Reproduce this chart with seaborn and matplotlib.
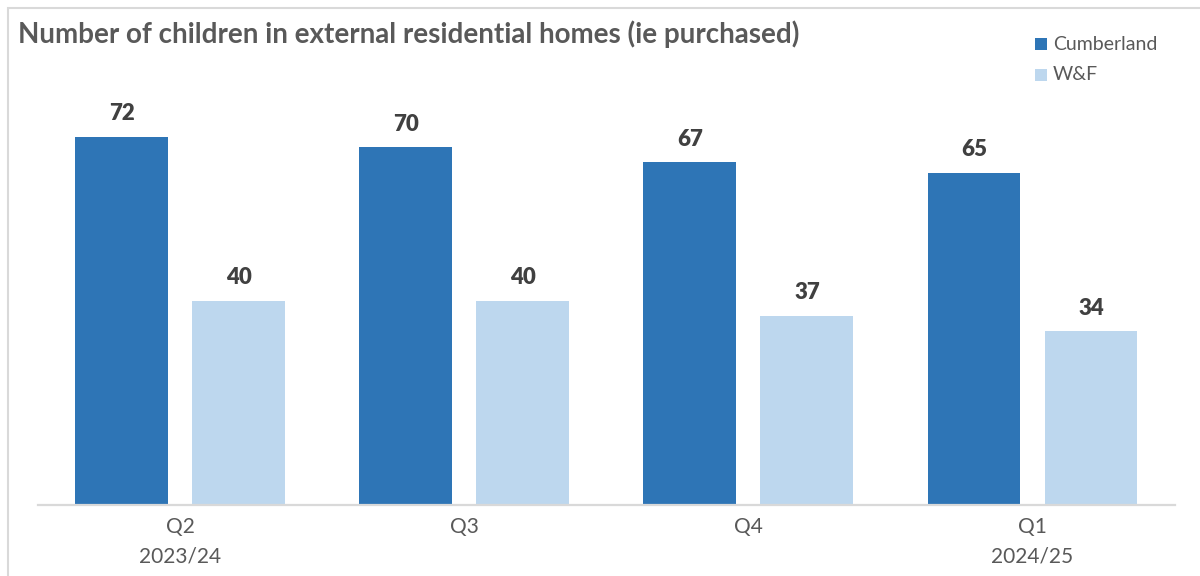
import matplotlib
matplotlib.use("Agg")
import matplotlib.pyplot as plt
import seaborn as sns
import pandas as pd
from matplotlib.patches import Rectangle

categories = ["Q2\n2023/24", "Q3", "Q4", "Q1\n2024/25"]
series_names = ["Cumberland", "W&F"]
cumberland = [72, 70, 67, 65]
wf = [40, 40, 37, 34]
title = "Number of children in external residential homes (ie purchased)"
colors = ["#2E75B6", "#BDD7EE"]

df = pd.DataFrame({
    "quarter": categories * 2,
    "series": [series_names[0]] * 4 + [series_names[1]] * 4,
    "value": cumberland + wf,
})

sns.set_theme(style="white")
plt.rcParams["font.family"] = ["Lato", "DejaVu Sans"]

W, H = 1200, 576
fig = plt.figure(figsize=(12, 5.76), dpi=100)
ax = fig.add_axes([38 / W, 1 - 505 / H, (1174.6 - 38) / W, 409 / H])

sns.barplot(data=df, x="quarter", y="value", hue="series", order=categories,
            hue_order=series_names, palette=colors, width=0.824, gap=0.207,
            saturation=1, linewidth=0, edgecolor="none", ax=ax, legend=False)

ax.set_ylim(0, 80)
ax.set_xlim(-0.5, 3.5)
ax.set_yticks([])
ax.set_xlabel("")
ax.set_ylabel("")
for s in ["top", "right", "left"]:
    ax.spines[s].set_visible(False)
ax.spines["bottom"].set_color("#D9D9D9")
ax.spines["bottom"].set_linewidth(1.6)
ax.tick_params(axis="x", length=0, pad=9, labelsize=15, labelcolor="#595959")
for lbl in ax.get_xticklabels():
    lbl.set_linespacing(1.55)

for cont in ax.containers:
    ax.bar_label(cont, fmt="%d", padding=9, fontsize=16, fontweight="heavy", color="#404040")

fig.text(18 / W, 1 - 34 / H, title, fontsize=20, fontweight="bold", color="#595959",
         ha="left", va="center")

# legend
for i, (name, c) in enumerate(zip(series_names, colors)):
    y = 1 - (44 + 31 * i) / H
    fig.patches.append(Rectangle((1035 / W, y - 6 / H), 12 / W, 12 / H,
                                 transform=fig.transFigure, facecolor=c, edgecolor="none"))
    fig.text(1053 / W, y, name, fontsize=14, color="#595959", ha="left", va="center")

# frame
fig.patches.append(Rectangle((8 / W, -0.1), 1.2, 1 - 8 / H + 0.1, transform=fig.transFigure,
                             facecolor="none", edgecolor="#D9D9D9", linewidth=1.5))

fig.savefig("out.png", dpi=100)
